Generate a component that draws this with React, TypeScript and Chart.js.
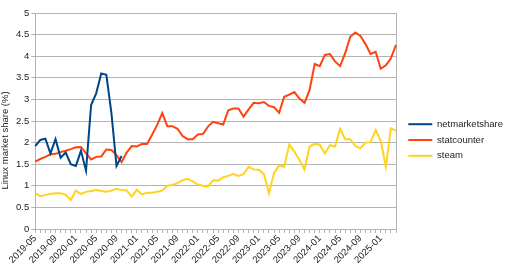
import { useEffect, useRef } from 'react';
import { Chart, registerables } from 'chart.js';

Chart.register(...registerables);

const months = [
  '2019-05', '2019-06', '2019-07', '2019-08', '2019-09', '2019-10', '2019-11', '2019-12',
  '2020-01', '2020-02', '2020-03', '2020-04', '2020-05', '2020-06', '2020-07', '2020-08', '2020-09', '2020-10', '2020-11', '2020-12',
  '2021-01', '2021-02', '2021-03', '2021-04', '2021-05', '2021-06', '2021-07', '2021-08', '2021-09', '2021-10', '2021-11', '2021-12',
  '2022-01', '2022-02', '2022-03', '2022-04', '2022-05', '2022-06', '2022-07', '2022-08', '2022-09', '2022-10', '2022-11', '2022-12',
  '2023-01', '2023-02', '2023-03', '2023-04', '2023-05', '2023-06', '2023-07', '2023-08', '2023-09', '2023-10', '2023-11', '2023-12',
  '2024-01', '2024-02', '2024-03', '2024-04', '2024-05', '2024-06', '2024-07', '2024-08', '2024-09', '2024-10', '2024-11', '2024-12',
  '2025-01', '2025-02', '2025-03', '2025-04',
];

const netmarketshare = [
  1.92, 2.06, 2.09, 1.75, 2.08, 1.65, 1.77, 1.5, 1.46, 1.81, 1.35, 2.87, 3.14, 3.6, 3.57, 2.68, 1.46, 1.69,
];

const statcounter = [
  1.56, 1.62, 1.67, 1.73, 1.74, 1.78, 1.81, 1.85, 1.89, 1.9, 1.75, 1.61, 1.67, 1.68, 1.84, 1.83, 1.71, 1.55,
  1.77, 1.92, 1.91, 1.97, 1.97, 2.18, 2.41, 2.68, 2.38, 2.38, 2.32, 2.15, 2.08, 2.08, 2.19, 2.2, 2.37, 2.48,
  2.45, 2.42, 2.75, 2.79, 2.79, 2.6, 2.77, 2.92, 2.91, 2.94, 2.85, 2.82, 2.69, 3.06, 3.11, 3.17, 3.02, 2.92,
  3.22, 3.82, 3.77, 4.03, 4.05, 3.88, 3.77, 4.07, 4.45, 4.55, 4.47, 4.28, 4.05, 4.1, 3.71, 3.79, 3.95, 4.26,
];

const steam = [
  0.83, 0.76, 0.79, 0.81, 0.83, 0.83, 0.79, 0.67, 0.89, 0.81, 0.86, 0.88, 0.9, 0.88, 0.86, 0.89, 0.93, 0.9,
  0.89, 0.75, 0.91, 0.8, 0.84, 0.84, 0.86, 0.89, 1.0, 1.02, 1.06, 1.13, 1.16, 1.1, 1.03, 1.0, 0.98, 1.13,
  1.12, 1.2, 1.23, 1.27, 1.23, 1.27, 1.44, 1.38, 1.37, 1.27, 0.83, 1.3, 1.47, 1.44, 1.96, 1.79, 1.6, 1.37,
  1.91, 1.97, 1.95, 1.75, 1.94, 1.91, 2.32, 2.08, 2.08, 1.92, 1.87, 2.0, 2.01, 2.29, 2.04, 1.44, 2.33, 2.28,
];

const Y_TITLE = 'Linux market share (%)';

const FONT = '"Liberation Sans", Arial, sans-serif';
const FONT_SIZE = 9.5;
const TEXT = '#222222';
const GRID = '#b3b3b3';

const yTitlePlugin = {
  id: 'yTitle',
  afterDraw(chart: any) {
    const { ctx, chartArea } = chart;
    ctx.save();
    ctx.font = `${FONT_SIZE}px ${FONT}`;
    ctx.fillStyle = TEXT;
    ctx.textAlign = 'center';
    ctx.textBaseline = 'middle';
    ctx.translate(5.5, (chartArea.top + chartArea.bottom) / 2 + 19.5);
    ctx.rotate(-Math.PI / 2);
    ctx.fillText(Y_TITLE, 0, 0);
    ctx.restore();
  },
};

export default function App() {
  const ref = useRef<HTMLCanvasElement | null>(null);

  useEffect(() => {
    const canvas = ref.current;
    if (!canvas) return;
    const chart = new Chart(canvas, {
      type: 'line',
      data: {
        labels: months,
        datasets: [
          { label: 'netmarketshare', data: netmarketshare, borderColor: '#004586', backgroundColor: '#004586', borderWidth: 2, pointRadius: 0, tension: 0 },
          { label: 'statcounter', data: statcounter, borderColor: '#ff420e', backgroundColor: '#ff420e', borderWidth: 2, pointRadius: 0, tension: 0 },
          { label: 'steam', data: steam, borderColor: '#ffd320', backgroundColor: '#ffd320', borderWidth: 2, pointRadius: 0, tension: 0 },
        ],
      },
      options: {
        responsive: false,
        animation: false,
        layout: { padding: { top: 13, right: 0, bottom: 6, left: 14 } },
        plugins: {
          tooltip: { enabled: false },
          legend: {
            position: 'right',
            align: 'center',
            maxWidth: 110,
            labels: {
              usePointStyle: true,
              pointStyle: 'line',
              pointStyleWidth: 24,
              padding: 6.3,
              color: TEXT,
              font: { family: FONT, size: FONT_SIZE },
            },
          },
        },
        scales: {
          x: {
            grid: { drawOnChartArea: false, tickLength: 4, color: GRID },
            border: { color: GRID },
            ticks: {
              autoSkip: false,
              maxRotation: 45,
              minRotation: 45,
              padding: 0,
              color: TEXT,
              font: { family: FONT, size: FONT_SIZE },
              callback: (_v: any, i: number) => (i % 4 === 0 ? months[i] : ''),
            },
            afterFit: (s: any) => { s.height = 38; },
          },
          y: {
            min: 0,
            max: 5,
            ticks: {
              stepSize: 0.5,
              padding: 2,
              color: TEXT,
              font: { family: FONT, size: FONT_SIZE },
              callback: (v: any) => String(Number(v)),
            },
            grid: { color: GRID, tickLength: 4 },
            border: { color: GRID },
          },
          y2: {
            position: 'right',
            display: true,
            min: 0,
            max: 5,
            grid: { drawOnChartArea: false, drawTicks: false },
            ticks: { display: false },
            border: { color: GRID },
            afterFit: (s: any) => { s.width = 6; },
          },
        },
      },
      plugins: [yTitlePlugin],
    });
    return () => chart.destroy();
  }, []);

  return (
    <div style={{ position: 'absolute', left: 0, top: 0, width: 512, height: 273, background: '#fff' }}>
      <canvas ref={ref} width={512} height={273} style={{ display: 'block' }} />
    </div>
  );
}
